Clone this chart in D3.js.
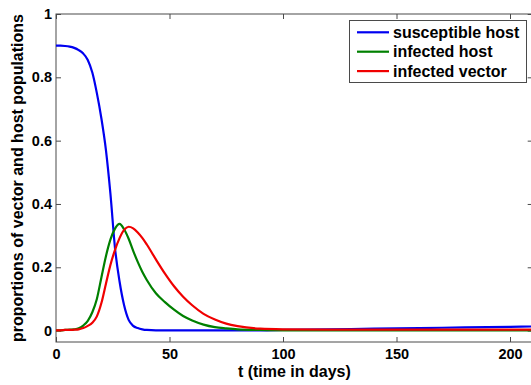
<!DOCTYPE html>
<html>
<head>
<meta charset="utf-8">
<script src="https://cdn.jsdelivr.net/npm/d3@7"></script>
<style>
  body { margin: 0; background: #fff; }
  text { font-family: "Liberation Sans", Arial, sans-serif; font-weight: bold; fill: #000; }
</style>
</head>
<body>
<div id="chart"></div>
<script>
// time points (days)
const tDays = [0, 2, 4, 6, 8, 10, 12, 14, 16, 18, 20, 22, 24, 26, 28, 30, 32, 34, 36, 38, 40,
  44, 48, 52, 56, 60, 65, 70, 75, 80, 90, 100, 120, 140, 160, 180, 200, 210];

const susceptibleHost = [0.900, 0.900, 0.899, 0.897, 0.893, 0.886, 0.875, 0.855, 0.815, 0.750, 0.670,
  0.570, 0.430, 0.260, 0.155, 0.080, 0.034, 0.015, 0.008, 0.004, 0.002,
  0.001, 0.001, 0.001, 0.001, 0.001, 0.001, 0.001, 0.001, 0.001, 0.001, 0.002, 0.004, 0.006, 0.008, 0.010, 0.012, 0.013];

const infectedHost = [0.001, 0.001, 0.002, 0.003, 0.004, 0.007, 0.016, 0.031, 0.058, 0.100, 0.168,
  0.235, 0.288, 0.322, 0.337, 0.320, 0.290, 0.252, 0.217, 0.186, 0.160,
  0.118, 0.090, 0.066, 0.046, 0.032, 0.019, 0.011, 0.007, 0.004, 0.002, 0.001, 0.001, 0.001, 0.001, 0.001, 0.001, 0.001];

const infectedVector = [0.001, 0.001, 0.002, 0.002, 0.003, 0.004, 0.008, 0.015, 0.025, 0.045, 0.087,
  0.148, 0.208, 0.255, 0.292, 0.318, 0.328, 0.323, 0.310, 0.293, 0.272,
  0.225, 0.180, 0.140, 0.107, 0.080, 0.053, 0.035, 0.022, 0.014, 0.006, 0.004, 0.003, 0.003, 0.003, 0.003, 0.003, 0.003];

const seriesNames = ['susceptible host', 'infected host', 'infected vector'];
const seriesColors = ['#0000f0', '#008000', '#f00000'];
const xTicks = [0, 50, 100, 150, 200];
const yTicks = [0, 0.2, 0.4, 0.6, 0.8, 1];

const width = 531, height = 385;
const plotLeft = 56, plotTop = 14, plotRight = 532.7, plotBottom = 342;

const svg = d3.select('#chart')
  .append('svg')
  .attr('width', width)
  .attr('height', height);

const x = d3.scaleLinear().domain([0, 210]).range([plotLeft, plotRight]);
const y = d3.scaleLinear().domain([-0.036, 1]).range([plotBottom, plotTop]);

svg.append('defs').append('clipPath').attr('id', 'clip')
  .append('rect')
  .attr('x', plotLeft).attr('y', plotTop)
  .attr('width', plotRight - plotLeft).attr('height', plotBottom - plotTop);

// axes with inward ticks
const tickFmt = d => d3.format('~g')(d);
const axisColor = '#4a4a4a';

const gx = svg.append('g').attr('transform', `translate(0,${plotBottom})`)
  .call(d3.axisBottom(x).tickValues(xTicks).tickFormat(tickFmt).tickSizeInner(-5).tickSizeOuter(0).tickPadding(7));
const gxTop = svg.append('g').attr('transform', `translate(0,${plotTop})`)
  .call(d3.axisTop(x).tickValues(xTicks).tickFormat('').tickSizeInner(-5).tickSizeOuter(0));
const gy = svg.append('g').attr('transform', `translate(${plotLeft},0)`)
  .call(d3.axisLeft(y).tickValues(yTicks).tickFormat(tickFmt).tickSizeInner(-5).tickSizeOuter(0).tickPadding(4));
const gyRight = svg.append('g').attr('transform', `translate(${plotRight},0)`)
  .call(d3.axisRight(y).tickValues(yTicks).tickFormat('').tickSizeInner(-5).tickSizeOuter(0));

[gx, gxTop, gy, gyRight].forEach(g => {
  g.select('.domain').remove();
  g.selectAll('line').attr('stroke', axisColor);
  g.selectAll('text')
    .attr('font-family', '"Liberation Sans", Arial, sans-serif')
    .attr('font-weight', 'bold')
    .attr('font-size', 14.5)
    .attr('fill', '#000');
});

svg.append('rect')
  .attr('x', plotLeft).attr('y', plotTop)
  .attr('width', plotRight - plotLeft).attr('height', plotBottom - plotTop)
  .attr('fill', 'none')
  .attr('stroke', axisColor)
  .attr('stroke-width', 1);

// curves
const allSeries = [susceptibleHost, infectedHost, infectedVector];
const line = d3.line()
  .x((d, i) => x(tDays[i]))
  .y(d => y(d))
  .curve(d3.curveMonotoneX);

svg.append('g').attr('clip-path', 'url(#clip)')
  .selectAll('path')
  .data(allSeries)
  .enter().append('path')
  .attr('d', line)
  .attr('fill', 'none')
  .attr('stroke', (d, i) => seriesColors[i])
  .attr('stroke-width', 2.2)
  .attr('stroke-linejoin', 'round');

// axis labels
svg.append('text')
  .attr('x', (plotLeft + plotRight) / 2)
  .attr('y', 377)
  .attr('text-anchor', 'middle')
  .attr('font-size', 16)
  .text('t (time in days)');

svg.append('text')
  .attr('transform', `translate(23,${(plotTop + plotBottom) / 2}) rotate(-90)`)
  .attr('text-anchor', 'middle')
  .attr('font-size', 16)
  .text('proportions of vector and host populations');

// legend
const legend = svg.append('g');
legend.append('rect')
  .attr('x', 349.5).attr('y', 20.5)
  .attr('width', 177).attr('height', 62)
  .attr('fill', '#fff')
  .attr('stroke', axisColor);

const rows = legend.selectAll('.row')
  .data(seriesNames)
  .enter().append('g')
  .attr('class', 'row')
  .attr('transform', (d, i) => `translate(0,${32.3 + i * 19.4})`);

rows.append('line')
  .attr('x1', 357).attr('x2', 389)
  .attr('stroke', (d, i) => seriesColors[i])
  .attr('stroke-width', 2.2);

rows.append('text')
  .attr('x', 393)
  .attr('dy', '0.35em')
  .attr('font-size', 16)
  .text(d => d);
</script>
</body>
</html>
